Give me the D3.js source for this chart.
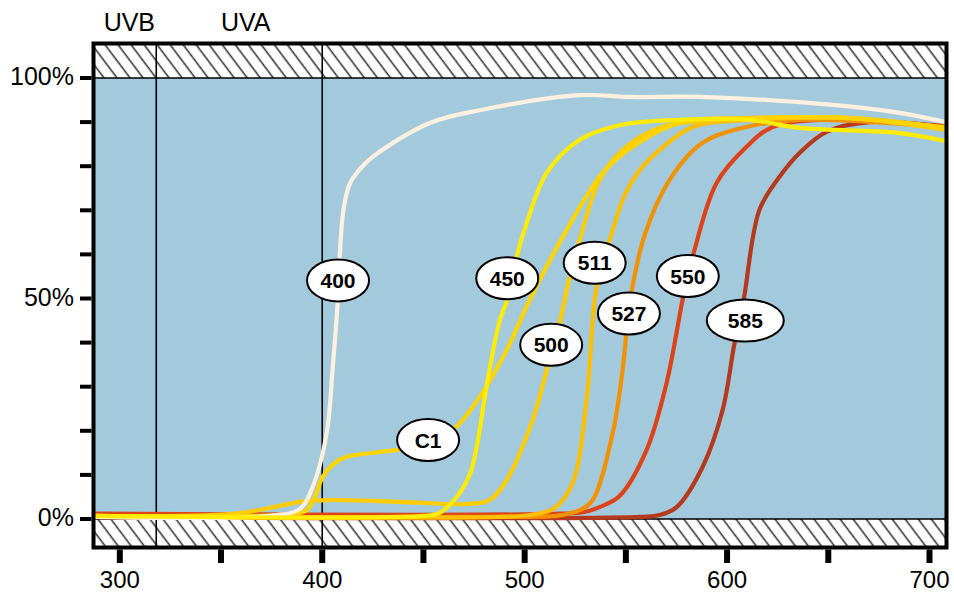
<html>
<script src="https://d3js.org/d3.v7.min.js"></script>
<head>
<meta charset="UTF-8">
<style>
  body { margin: 0; background: #fff; }
  text { font-family: Arial, "Liberation Sans", sans-serif; }
</style>
</head>
<body>
<svg id="chart" width="954" height="593"></svg>
<script>
// wavelength (nm) / transmission (%)
const curveNames = ['585', '550', '527', '511', '500', 'C1', '400', '450'];
const curveColors = ['#b5391c', '#dc4318', '#f39200', '#fdbf00', '#ffcc00', '#ffd400', '#fdf0df', '#ffec00'];

const wl585 = [287, 556.8, 566.7, 575.1, 587.9, 597.8, 603.7, 606.2, 608.6, 616, 625.9, 635.8, 649.1, 670.4, 708];
const pc585 = [0.4, 0.5, 0.9, 2.7, 11.8, 24.7, 39.9, 44.7, 50.8, 70.1, 77.6, 83, 87.8, 90, 88.9];

const wl550 = [287, 517.3, 529.6, 537, 546.9, 560.2, 570.1, 578, 580.5, 583.9, 594.8, 609.6, 622.5, 645.7, 708];
const pc550 = [1.2, 1.2, 1.6, 2.7, 5.2, 15.6, 30.8, 49.7, 54.9, 61, 76.2, 84.4, 88.9, 90.5, 89.1];

const wl527 = [287, 502.5, 515.8, 527.2, 533.6, 543.5, 548.4, 550.9, 552.8, 559.3, 571.6, 587.9, 609.6, 635.8, 708];
const pc527 = [0.5, 0.5, 0.7, 2, 4.3, 19.5, 33.8, 45.1, 51.5, 64.4, 76.9, 85.3, 88.9, 90.5, 88.9];

const wl511 = [287, 487.7, 502.5, 514.8, 523.7, 530.6, 534.6, 538, 542, 549.4, 556.8, 566.7, 583, 611, 660.5, 708];
const pc511 = [0.5, 0.5, 0.9, 2.5, 8.2, 27, 49.7, 58, 63.3, 73.5, 79.1, 83.7, 88.9, 90.5, 90.9, 88.7];

const wl500 = [287, 354.3, 374, 388.9, 403.7, 438.3, 471.4, 482.7, 491.1, 503.9, 511.4, 514.8, 519.8, 522.2, 527.2, 537, 548.4, 566.7, 596.3, 660.5, 708];
const pc500 = [0.7, 1.1, 2.5, 3.9, 4.3, 3.9, 3.4, 4.3, 8.8, 22.4, 34.5, 39.5, 49.7, 54.9, 63.3, 76.9, 83.7, 88.7, 90.5, 90.9, 88.2];

const wlC1 = [287, 384, 392.3, 396.3, 400.2, 406.2, 412.1, 428.4, 443.2, 452.1, 465.4, 477.8, 491.1, 502.5, 520.7, 538.5, 553.3, 576.5, 611, 660.5, 708];
const pcC1 = [0.7, 1.1, 2, 5, 9.5, 12.7, 14.1, 15.2, 16.1, 17.5, 20.6, 27.7, 38.3, 49.7, 65.5, 78.5, 84.4, 89.8, 90.9, 90.9, 88.7];

const wl400 = [287, 374, 389, 395.3, 402.2, 405.2, 407.7, 408.6, 410.6, 413.6, 418, 424.9, 453.1, 477.8, 527.2, 551.9, 586.4, 652.1, 685.2, 708];
const pc400 = [0.5, 0.7, 2.3, 7.3, 19.5, 34.5, 49.7, 59.4, 70.5, 76, 79, 82.1, 89.8, 92.7, 96.1, 95.7, 95.7, 93.9, 92.1, 90];

const wl450 = [287, 449.6, 458, 466.4, 472.8, 476.3, 481.7, 487.7, 491.6, 496, 501, 510.9, 527.2, 546.9, 576.5, 611, 635.8, 685.2, 708];
const pc450 = [0.7, 0.7, 1.4, 5, 10, 16.3, 31.5, 45, 50, 59.4, 67.1, 78.5, 86, 89.3, 90.5, 90.5, 88.7, 87.5, 85.7];

const curveWl = [wl585, wl550, wl527, wl511, wl500, wlC1, wl400, wl450];
const curvePc = [pc585, pc550, pc527, pc511, pc500, pcC1, pc400, pc450];

// label bubbles, placed on their curves
const labelNames = ['400', '450', '511', '527', '550', '585', '500', 'C1'];
const labelWl = [407.8, 491.4, 534.6, 551.5, 580.6, 609, 513.1, 452.3];
const labelPc = [54.1, 54.6, 58.1, 46.6, 55.1, 45, 39.5, 17.9];

const bandLines = [318, 400];
const bandNames = ['UVB', 'UVA'];
const bandNameWl = [304.7, 362.2];

const xTicks = [300, 350, 400, 450, 500, 550, 600, 650, 700];
const xTickLabels = [300, 400, 500, 600, 700];
const yTicks = [0, 10, 20, 30, 40, 50, 60, 70, 80, 90, 100];
const yTickLabels = [0, 50, 100];

const svg = d3.select('#chart');
const left = 93.5, right = 946.5, top100 = 78, bottom0 = 519;
const frameTop = 43.5, frameBottom = 547.5;

const x = d3.scaleLinear().domain([287, 708.4]).range([left, right]);
const y = d3.scaleLinear().domain([0, 100]).range([bottom0, top100]);

const defs = svg.append('defs');
const pat = defs.append('pattern').attr('id', 'hatch')
  .attr('patternUnits', 'userSpaceOnUse').attr('width', 10.4).attr('height', 10.4)
  .attr('patternTransform', 'rotate(-37)');
pat.append('rect').attr('width', 10.4).attr('height', 10.4).attr('fill', '#fff');
pat.append('line').attr('x1', 5).attr('x2', 5).attr('y1', 0).attr('y2', 10.4)
  .attr('stroke', '#3a3a3a').attr('stroke-width', 1.6);
defs.append('clipPath').attr('id', 'clip').append('rect')
  .attr('x', left).attr('y', frameTop).attr('width', right - left).attr('height', frameBottom - frameTop);

// background + hatched bands
svg.append('rect').attr('x', left).attr('y', frameTop).attr('width', right - left)
  .attr('height', top100 - frameTop).attr('fill', 'url(#hatch)');
svg.append('rect').attr('x', left).attr('y', bottom0).attr('width', right - left)
  .attr('height', frameBottom - bottom0).attr('fill', 'url(#hatch)');
svg.append('rect').attr('x', left).attr('y', top100).attr('width', right - left)
  .attr('height', bottom0 - top100).attr('fill', '#a3c9dc');

svg.selectAll('.hl').data([0, 100]).enter().append('line')
  .attr('x1', left).attr('x2', right).attr('y1', d => y(d)).attr('y2', d => y(d))
  .attr('stroke', '#000').attr('stroke-width', 1.6);

svg.selectAll('.band').data(bandLines).enter().append('line')
  .attr('x1', d => x(d)).attr('x2', d => x(d)).attr('y1', frameTop).attr('y2', frameBottom)
  .attr('stroke', '#000').attr('stroke-width', 1.6);

svg.selectAll('.bandName').data(bandNames).enter().append('text')
  .attr('x', (d, i) => x(bandNameWl[i])).attr('y', 31)
  .attr('text-anchor', 'middle').attr('font-size', 25).text(d => d);

// curves
const line = d3.line().x(d => x(d[0])).y(d => y(d[1])).curve(d3.curveCatmullRom.alpha(0.5));
const g = svg.append('g').attr('clip-path', 'url(#clip)');
curveNames.forEach((name, i) => {
  const pts = curveWl[i].map((w, j) => [w, curvePc[i][j]]);
  g.append('path').datum(pts).attr('d', line)
    .attr('fill', 'none').attr('stroke', curveColors[i]).attr('stroke-width', 4.2)
    .attr('stroke-linejoin', 'round');
});

// label bubbles
const lab = svg.selectAll('.lab').data(labelNames).enter().append('g')
  .attr('transform', (d, i) => 'translate(' + x(labelWl[i]) + ',' + y(labelPc[i]) + ')');
lab.append('ellipse').attr('rx', d => d === '585' ? 38.5 : 31).attr('ry', 21)
  .attr('fill', '#fff').attr('stroke', '#000').attr('stroke-width', 2);
lab.append('text').attr('text-anchor', 'middle').attr('y', 7.5)
  .attr('font-size', 21).attr('font-weight', 'bold').text(d => d);

// frame
svg.append('rect').attr('x', left).attr('y', frameTop).attr('width', right - left)
  .attr('height', frameBottom - frameTop).attr('fill', 'none')
  .attr('stroke', '#000').attr('stroke-width', 4);

// axes
svg.selectAll('.xt').data(xTicks).enter().append('line')
  .attr('x1', d => x(d)).attr('x2', d => x(d)).attr('y1', frameBottom + 2).attr('y2', 563)
  .attr('stroke', '#000').attr('stroke-width', 6);
svg.selectAll('.xl').data(xTickLabels).enter().append('text')
  .attr('x', d => x(d)).attr('y', 588).attr('text-anchor', 'middle')
  .attr('font-size', 24).text(d => d);

svg.selectAll('.yt').data(yTicks).enter().append('line')
  .attr('x1', 80).attr('x2', left - 2).attr('y1', d => y(d)).attr('y2', d => y(d))
  .attr('stroke', '#000').attr('stroke-width', 4);
svg.selectAll('.yl').data(yTickLabels).enter().append('text')
  .attr('x', 74).attr('y', d => y(d) + 7).attr('text-anchor', 'end')
  .attr('font-size', 25).text(d => d + '%');
</script>
</body>
</html>
